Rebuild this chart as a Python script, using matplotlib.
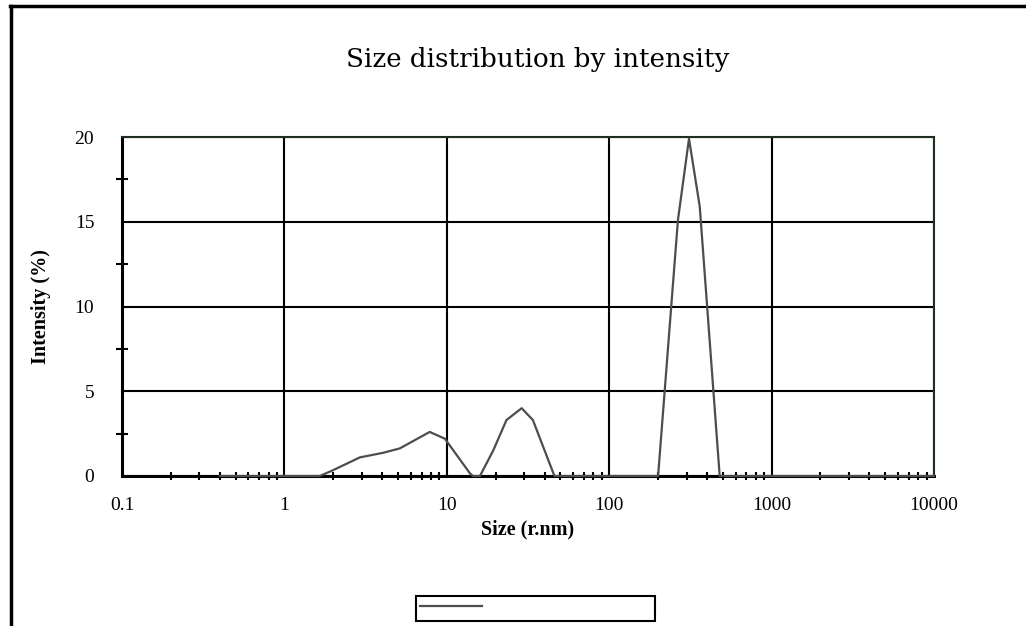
import matplotlib
matplotlib.use("Agg")
import matplotlib.pyplot as plt
from matplotlib.ticker import LogLocator, FixedLocator, NullFormatter
from matplotlib.lines import Line2D
from matplotlib.patches import Rectangle

# ---- data ----
size_nm = [0.4, 1.65, 1.95, 2.92, 4.06, 5.14, 7.85, 9.73, 13.9, 14.5, 16.0,
           19.3, 23.3, 28.9, 33.9, 39.2, 46.0, 200, 265, 310, 361, 479, 10000]
intensity = [0, 0, 0.3, 1.1, 1.37, 1.63, 2.6, 2.2, 0.15, 0, 0,
             1.5, 3.3, 4.0, 3.3, 1.73, 0, 0, 15.1, 19.9, 15.9, 0, 0]
x_ticks = [0.1, 1, 10, 100, 1000, 10000]
x_tick_labels = ["0.1", "1", "10", "100", "1000", "10000"]
y_ticks = [0, 5, 10, 15, 20]
y_minor = [2.5, 7.5, 12.5, 17.5]

title = "Size distribution by intensity"
xlabel = "Size (r.nm)"
ylabel = "Intensity (%)"

serif = ["Liberation Serif", "DejaVu Serif"]

fig = plt.figure(figsize=(10.26, 6.26), dpi=100)
ax = fig.add_axes([122/1026, 1-476/626, (934-122)/1026, (476-137)/626])

ax.plot(size_nm, intensity, color="#4d4d4d", lw=1.6, zorder=3, clip_on=False)

ax.set_xscale("log")
ax.set_xlim(0.1, 10000)
ax.set_ylim(0, 20)

ax.xaxis.set_major_locator(FixedLocator(x_ticks))
ax.set_xticklabels(x_tick_labels)
ax.xaxis.set_minor_locator(LogLocator(base=10, subs=range(2, 10)))
ax.xaxis.set_minor_formatter(NullFormatter())
ax.yaxis.set_major_locator(FixedLocator(y_ticks))
ax.yaxis.set_minor_locator(FixedLocator(y_minor))

ax.grid(True, which="major", color="black", lw=1.5)
ax.set_axisbelow(True)

for s in ["left", "bottom"]:
    ax.spines[s].set_linewidth(2.2)
    ax.spines[s].set_color("black")
for s in ["top", "right"]:
    ax.spines[s].set_linewidth(1.5)
    ax.spines[s].set_color("#1f2f1f")

ax.tick_params(axis="both", which="major", length=0)
ax.tick_params(axis="x", which="minor", direction="inout", length=6, width=1.5, color="black")
ax.tick_params(axis="y", which="minor", direction="inout", length=8, width=1.5, color="black")

for lab in ax.get_xticklabels() + ax.get_yticklabels():
    lab.set_fontfamily(serif)
    lab.set_fontsize(14)
ax.tick_params(axis="x", which="major", pad=15)
ax.tick_params(axis="y", which="major", pad=20)

ax.set_xlabel(xlabel, fontfamily=serif, fontsize=14.5, fontweight="bold", labelpad=4)
ax.set_ylabel(ylabel, fontfamily=serif, fontsize=14.5, fontweight="bold", labelpad=17)

fig.text(538/1026, 1-60/626, title, ha="center", va="center",
         fontfamily=["DejaVu Serif"], fontsize=18.8)

# outer frame lines (top and left)
fig.add_artist(Line2D([10/1026, 1.0], [1-6/626, 1-6/626], color="black", lw=2.5,
                      transform=fig.transFigure))
fig.add_artist(Line2D([11/1026, 11/1026], [0, 1-6/626], color="black", lw=2.5,
                      transform=fig.transFigure))

# legend box
fig.add_artist(Rectangle((416/1026, 1-621/626), 239/1026, 25/626, fill=False,
                         edgecolor="black", lw=1.5, transform=fig.transFigure))
fig.add_artist(Line2D([420/1026, 482/1026], [1-606/626, 1-606/626], color="#4d4d4d",
                      lw=1.6, transform=fig.transFigure))

fig.savefig("out.png", dpi=100, facecolor="white")
